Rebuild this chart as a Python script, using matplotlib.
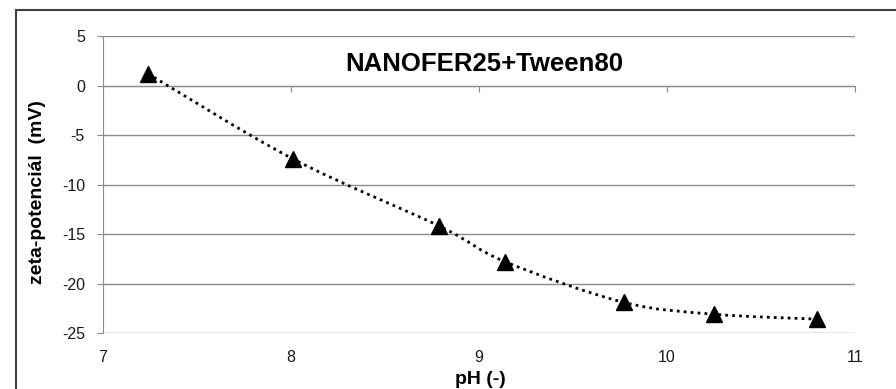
import matplotlib

matplotlib.use("Agg")
import matplotlib.pyplot as plt
from matplotlib.path import Path
from matplotlib.patches import PathPatch, Rectangle

plt.rcParams["font.family"] = ["Liberation Sans", "DejaVu Sans"]
plt.rcParams["axes.unicode_minus"] = False

PH = [7.24, 8.01, 8.79, 9.14, 9.77, 10.25, 10.80]
ZETA = [1.2, -7.4, -14.2, -17.8, -21.9, -23.1, -23.6]
XTICKS = [7, 8, 9, 10, 11]
YTICKS = [5, 0, -5, -10, -15, -20, -25]
TITLE = "NANOFER25+Tween80"


def smooth_path(xs, ys, t=1 / 6):
    # Excel-like smoothed line: cubic Bezier segments with Catmull-Rom handles
    pts = list(zip(xs, ys))
    verts = [pts[0]]
    codes = [Path.MOVETO]
    for i in range(len(pts) - 1):
        p0 = pts[i - 1] if i > 0 else pts[i]
        p1, p2 = pts[i], pts[i + 1]
        p3 = pts[i + 2] if i + 2 < len(pts) else pts[i + 1]
        c1 = (p1[0] + (p2[0] - p0[0]) * t, p1[1] + (p2[1] - p0[1]) * t)
        c2 = (p2[0] - (p3[0] - p1[0]) * t, p2[1] - (p3[1] - p1[1]) * t)
        verts += [c1, c2, p2]
        codes += [Path.CURVE4] * 3
    return Path(verts, codes)


fig = plt.figure(figsize=(8.96, 3.89), dpi=100)
ax = fig.add_axes([0.115, 0.144, 0.839, 0.763])

grid_c = "#8c8c8c"
ax.set_xlim(7, 11)
ax.set_ylim(-25, 5)
ax.set_yticks(YTICKS)
ax.yaxis.grid(True, color=grid_c, lw=1.0)
ax.set_axisbelow(True)

for sp in ("top", "right"):
    ax.spines[sp].set_visible(False)
ax.spines["left"].set_color(grid_c)
ax.spines["bottom"].set_color(grid_c)
ax.spines["bottom"].set_position(("data", 0))
ax.set_xticks(XTICKS)
ax.tick_params(axis="x", direction="out", length=4, color=grid_c, labelbottom=False)
ax.tick_params(axis="y", direction="out", length=4, color=grid_c, labelsize=11.5,
               pad=9, labelcolor="#1a1a1a")

sec = ax.secondary_xaxis(0.0)
sec.set_xticks(XTICKS)
sec.spines["bottom"].set_visible(False)
sec.tick_params(length=0, labelsize=11.5, pad=12, labelcolor="#1a1a1a")

ax.add_patch(PathPatch(smooth_path(PH, ZETA), fill=False, lw=2.0,
                       ls=(0, (1, 1.5)), color="black", zorder=3))
ax.plot(PH, ZETA, ls="none", marker="^", ms=11, color="black", zorder=4)

ax.text(0.507, 0.906, TITLE, transform=ax.transAxes, ha="center", va="center",
        fontsize=18.5, fontweight="bold")
fig.text(38 / 896, 1 - 192 / 389, "zeta-potenciál  (mV)", rotation=90,
         ha="center", va="center", fontsize=14, fontweight="bold")
fig.text(480 / 896, 1 - 379 / 389, "pH (-)", ha="center", va="center",
         fontsize=14, fontweight="bold")

fig.patches.append(Rectangle((0.018, -0.1), 1.1, 1.074, transform=fig.transFigure,
                             fill=False, edgecolor="#404040", lw=1.5))

fig.savefig("out.png")
